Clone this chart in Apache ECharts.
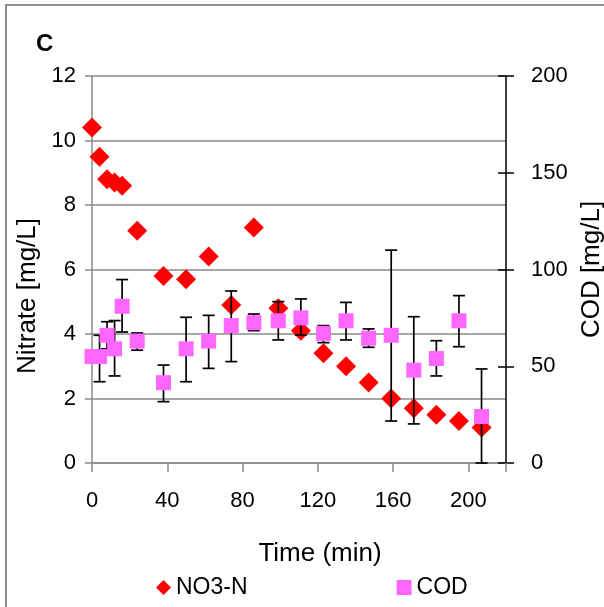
<!DOCTYPE html>
<html>
<head>
<meta charset="utf-8">
<script src="https://cdn.jsdelivr.net/npm/echarts@6/dist/echarts.min.js"></script>
<style>
html,body{margin:0;padding:0;background:#fff;}
#chart{width:604px;height:607px;}
</style>
</head>
<body>
<div id="chart"></div>
<script>
// Sampling times (min)
const times = [0, 4, 8, 12, 16, 24, 38, 50, 62, 74, 86, 99, 111, 123, 135, 147, 159, 171, 183, 195, 207];
// Nitrate (mg/L), left axis
const nitrate = [10.4, 9.5, 8.8, 8.7, 8.6, 7.2, 5.8, 5.7, 6.4, 4.9, 7.3, 4.8, 4.1, 3.4, 3.0, 2.5, 2.0, 1.7, 1.5, 1.3, 1.1];
// COD (mg/L), right axis
const cod = [55, 55, 66, 59, 81, 63, 41.5, 59, 63, 71, 72.5, 73.5, 75, 67, 73.5, 64.5, 66, 48, 54, 73.5, 24];
// COD error bar ends (mg/L)
const codLow = [52, 42, 59, 45, 67.7, 58.3, 31.7, 42, 48.9, 52.4, 68.4, 63.6, 66.1, 62.2, 63.6, 59.8, 21.7, 20.2, 45, 60.1, 0];
const codHigh = [58, 66, 73, 73.6, 94.8, 67.2, 50.6, 75.3, 76.3, 88.9, 77, 83.4, 84.8, 71, 83, 69.3, 110, 75.6, 63.2, 86.5, 48.6];
// Axis ticks
const xTicks = {min: 0, max: 220, interval: 40};
const leftTicks = {min: 0, max: 12, interval: 2};
const rightTicks = {min: 0, max: 200, interval: 50};

const FONT = 'Liberation Sans, Arial, sans-serif';
const GRAY = '#8a8a8a';

const chart = echarts.init(document.getElementById('chart'), null, {renderer: 'canvas'});

function renderErr(params, api) {
  const x = api.value(0);
  const lo = api.coord([x, api.value(1)]);
  const hi = api.coord([x, api.value(2)]);
  const w = 6;
  const st = {stroke: '#000', lineWidth: 1.7};
  return {
    type: 'group',
    children: [
      {type: 'line', shape: {x1: lo[0], y1: lo[1], x2: hi[0], y2: hi[1]}, style: st},
      {type: 'line', shape: {x1: lo[0] - w, y1: lo[1], x2: lo[0] + w, y2: lo[1]}, style: st},
      {type: 'line', shape: {x1: hi[0] - w, y1: hi[1], x2: hi[0] + w, y2: hi[1]}, style: st}
    ]
  };
}

const option = {
  animation: false,
  textStyle: {fontFamily: FONT},
  graphic: [
    {type: 'rect', silent: true, z: -10, shape: {x: 6, y: 5, width: 700, height: 700},
     style: {fill: 'transparent', stroke: '#8f8f8f', lineWidth: 2}},
    {type: 'text', left: 36, top: 32, style: {text: 'C', font: 'bold 24px Liberation Sans', fill: '#000'}}
  ],
  grid: {left: 92, right: 98, top: 76, bottom: 144, containLabel: false, outerBoundsMode: 'none'},
  legend: {
    left: 151, top: 571, itemWidth: 15, itemHeight: 15, itemGap: 149,
    textStyle: {fontSize: 23, color: '#000', fontFamily: FONT},
    data: [{name: 'NO3-N', icon: 'diamond'}, {name: 'COD', icon: 'rect'}]
  },
  xAxis: {
    type: 'value', min: xTicks.min, max: xTicks.max, interval: xTicks.interval,
    name: 'Time (min)', nameLocation: 'middle', nameGap: 78,
    nameTextStyle: {fontSize: 26, color: '#000', padding: [0, 0, 0, 42]},
    axisLine: {show: true, lineStyle: {color: GRAY, width: 1.5}},
    axisTick: {show: true, length: 9, lineStyle: {color: GRAY, width: 1.5}},
    axisLabel: {fontSize: 22, color: '#000', margin: 27,
      formatter: v => (v > 200 ? '' : String(v))},
    splitLine: {show: false}
  },
  yAxis: [
    {
      type: 'value', position: 'left', min: leftTicks.min, max: leftTicks.max, interval: leftTicks.interval,
      name: 'Nitrate [mg/L]', nameLocation: 'middle', nameGap: 41,
      nameTextStyle: {fontSize: 26, color: '#000', padding: [0, 53, 0, 0]},
      axisLine: {show: true, lineStyle: {color: GRAY, width: 1.5}},
      axisTick: {show: true, length: 7, lineStyle: {color: GRAY, width: 1.5}},
      axisLabel: {fontSize: 22, color: '#000', margin: 16},
      splitLine: {show: true, lineStyle: {color: GRAY, width: 1.5}}
    },
    {
      type: 'value', position: 'right', min: rightTicks.min, max: rightTicks.max, interval: rightTicks.interval,
      name: 'COD [mg/L]', nameLocation: 'middle', nameGap: 68,
      nameTextStyle: {fontSize: 26, color: '#000'},
      axisLine: {show: true, lineStyle: {color: '#000', width: 1.5}},
      axisTick: {show: true, length: 8, lineStyle: {color: '#000', width: 1.5}},
      axisLabel: {fontSize: 22, color: '#000', margin: 25},
      splitLine: {show: false}
    },
    {
      type: 'value', position: 'right', min: rightTicks.min, max: rightTicks.max, interval: rightTicks.interval,
      axisLine: {show: false},
      axisTick: {show: true, inside: true, length: 8, lineStyle: {color: '#000', width: 1.5}},
      axisLabel: {show: false},
      splitLine: {show: false}
    }
  ],
  series: [
    {
      name: 'NO3-N', type: 'scatter', yAxisIndex: 0, z: 2,
      symbol: 'diamond', symbolSize: 20,
      itemStyle: {color: '#ff0000', opacity: 1},
      data: times.map((t, i) => [t, nitrate[i]])
    },
    {
      name: 'err', type: 'custom', yAxisIndex: 1, z: 3,
      renderItem: renderErr,
      encode: {x: 0, y: [1, 2]},
      data: times.map((t, i) => [t, codLow[i], codHigh[i]])
    },
    {
      name: 'COD', type: 'scatter', yAxisIndex: 1, z: 4,
      symbol: 'rect', symbolSize: 15,
      itemStyle: {color: '#ff66ff', opacity: 1},
      data: times.map((t, i) => [t, cod[i]])
    }
  ]
};
chart.setOption(option);
</script>
</body>
</html>
